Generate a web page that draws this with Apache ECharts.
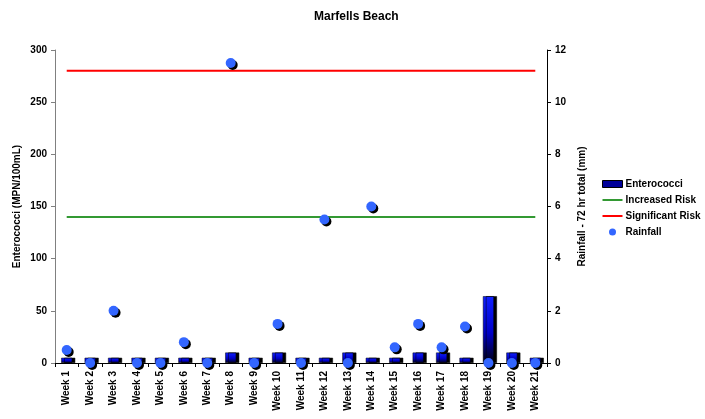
<!DOCTYPE html>
<html>
<head>
<meta charset="utf-8">
<script src="https://cdn.jsdelivr.net/npm/echarts@6/dist/echarts.min.js"></script>
<style>
  html, body { margin: 0; padding: 0; background: #fff; }
  #chart { width: 705px; height: 419px; }
</style>
</head>
<body>
<div id="chart"></div>
<script>
// Weekly sampling results for Marfells Beach
const weeks = ['Week 1','Week 2','Week 3','Week 4','Week 5','Week 6','Week 7','Week 8','Week 9','Week 10','Week 11',
               'Week 12','Week 13','Week 14','Week 15','Week 16','Week 17','Week 18','Week 19','Week 20','Week 21'];
// Enterococci, MPN/100mL
const enterococci = [5, 5, 5, 5, 5, 5, 5, 10, 5, 10, 5, 5, 10, 5, 5, 10, 10, 5, 64, 10, 5];
// Guideline thresholds, MPN/100mL
const increasedRisk = 140;
const significantRisk = 280;
// Rainfall, 72 hr total (mm)
const rainfall = [0.5, 0, 2.0, 0, 0, 0.8, 0, 11.5, 0, 1.5, 0, 5.5, 0, 6.0, 0.6, 1.5, 0.6, 1.4, 0, 0, 0];

const font = 'Arial, "Liberation Sans", sans-serif';
const chart = echarts.init(document.getElementById('chart'), null, { renderer: 'canvas' });

chart.setOption({
  animation: false,
  backgroundColor: '#ffffff',
  textStyle: { fontFamily: font },
  title: {
    text: 'Marfells Beach',
    left: 309, top: 6,
    textStyle: { fontSize: 12, fontWeight: 'bold', color: '#000', fontFamily: font }
  },
  grid: { left: 55, right: 158, top: 50, bottom: 56, containLabel: false, outerBoundsMode: 'none' },
  legend: {
    orient: 'vertical',
    left: 597, top: 174,
    itemWidth: 20, itemHeight: 7, itemGap: 6,
    textStyle: { fontSize: 10, fontWeight: 'bold', color: '#000', fontFamily: font, padding: [0, 0, 0, -2] },
    data: [
      { name: 'Enterococci', icon: 'rect', itemStyle: { color: '#000099', borderColor: '#000', borderWidth: 1 } },
      { name: 'Increased Risk', icon: 'path://M0,0 L20,0 L20,2 L0,2 Z', itemStyle: { color: '#339933' } },
      { name: 'Significant Risk', icon: 'path://M0,0 L20,0 L20,2 L0,2 Z', itemStyle: { color: '#ff0000' } },
      { name: 'Rainfall', icon: 'circle', itemStyle: { color: '#3366ff' } }
    ]
  },
  xAxis: {
    type: 'category',
    data: weeks,
    boundaryGap: true,
    axisLine: { lineStyle: { color: '#000', width: 1 } },
    axisTick: { show: true, interval: 0, length: 4, lineStyle: { color: '#000' } },
    axisLabel: { interval: 0, rotate: 90, fontSize: 10, fontWeight: 'bold', color: '#000', margin: 8, fontFamily: font }
  },
  yAxis: [
    {
      type: 'value', min: 0, max: 300, interval: 50,
      name: 'Enterococci (MPN/100mL)',
      nameLocation: 'middle', nameGap: 33,
      nameMoveOverlap: false,
      nameTextStyle: { fontSize: 10, fontWeight: 'bold', color: '#000', fontFamily: font },
      axisLine: { show: true, lineStyle: { color: '#808080' } },
      axisTick: { show: true, length: 4, lineStyle: { color: '#808080' } },
      axisLabel: { fontSize: 10, fontWeight: 'bold', color: '#000', margin: 8, fontFamily: font },
      splitLine: { show: false }
    },
    {
      type: 'value', min: 0, max: 12, interval: 2,
      name: 'Rainfall - 72 hr total (mm)',
      nameLocation: 'middle', nameGap: 30,
      nameMoveOverlap: false,
      nameRotate: 90,
      nameTextStyle: { fontSize: 10, fontWeight: 'bold', color: '#000', fontFamily: font },
      axisLine: { show: true, lineStyle: { color: '#000' } },
      axisTick: { show: true, length: 4, lineStyle: { color: '#000' } },
      axisLabel: { fontSize: 10, fontWeight: 'bold', color: '#000', margin: 8, fontFamily: font },
      splitLine: { show: false }
    }
  ],
  series: [
    {
      name: 'Enterococci',
      type: 'bar',
      yAxisIndex: 0,
      data: enterococci,
      barWidth: 11,
      z: 2,
      itemStyle: {
        color: new echarts.graphic.LinearGradient(0, 0, 0, 1, [
          { offset: 0, color: '#1020ff' },
          { offset: 0.55, color: '#0000c8' },
          { offset: 1, color: '#000010' }
        ]),
        borderColor: '#000', borderWidth: 0.5,
        shadowColor: '#000', shadowOffsetX: 3, shadowOffsetY: 0, shadowBlur: 0
      }
    },
    {
      name: 'Increased Risk',
      type: 'line',
      yAxisIndex: 0,
      data: weeks.map(() => increasedRisk),
      symbol: 'none',
      z: 3,
      lineStyle: { color: '#339933', width: 2 },
      itemStyle: { color: '#339933' }
    },
    {
      name: 'Significant Risk',
      type: 'line',
      yAxisIndex: 0,
      data: weeks.map(() => significantRisk),
      symbol: 'none',
      z: 3,
      lineStyle: { color: '#ff0000', width: 2 },
      itemStyle: { color: '#ff0000' }
    },
    {
      name: 'Rainfall',
      type: 'scatter',
      yAxisIndex: 1,
      data: rainfall,
      symbol: 'circle',
      symbolSize: 10,
      z: 4,
      itemStyle: {
        color: '#3366ff', opacity: 1,
        shadowColor: '#000', shadowOffsetX: 2, shadowOffsetY: 2, shadowBlur: 0
      }
    }
  ]
});
</script>
</body>
</html>
